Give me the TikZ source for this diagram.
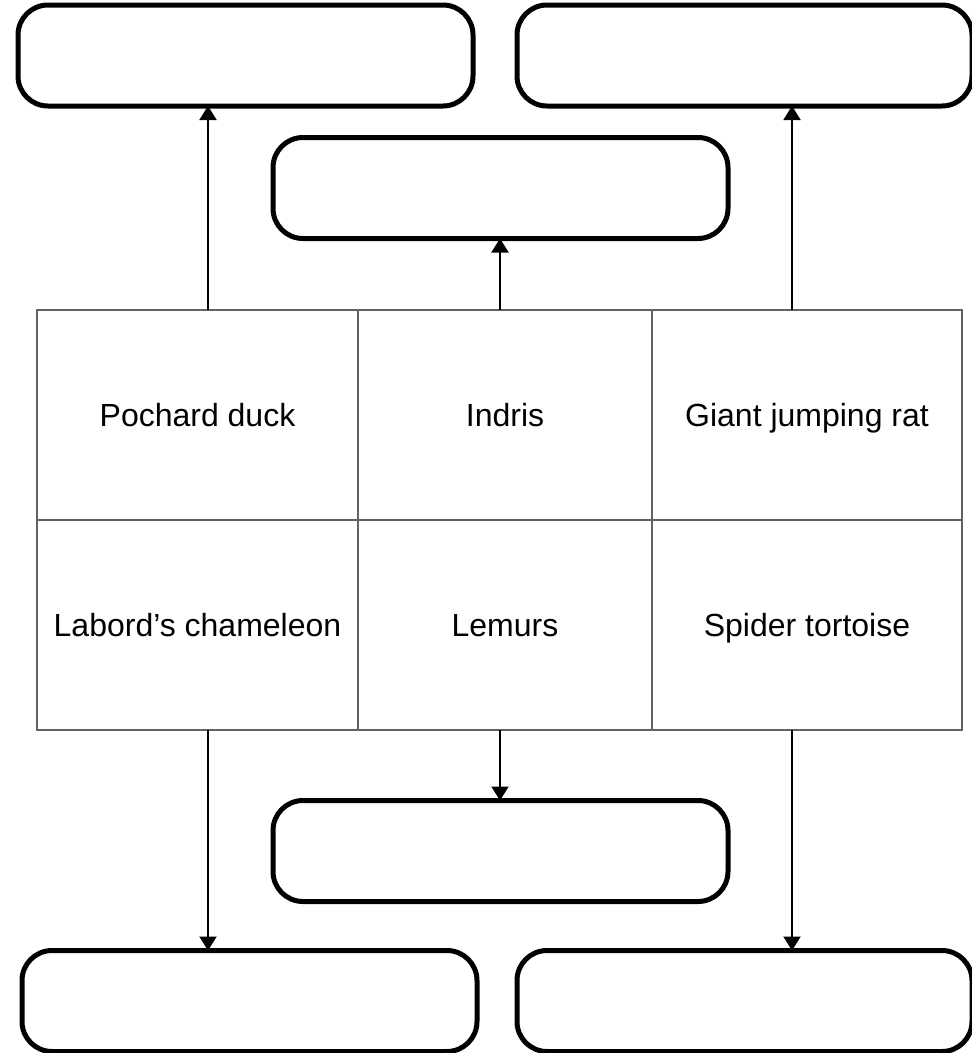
\documentclass[tikz,border=0pt]{standalone}
\usepackage{fontspec}
\setmainfont{Liberation Sans}
\usetikzlibrary{positioning, arrows.meta}
\definecolor{gridgray}{HTML}{5F6368}

\begin{document}
\begin{tikzpicture}[x=1pt,y=-1pt,font=\fontsize{32}{38}\selectfont]
    \tikzstyle{cell} = [rectangle,draw=gridgray,line width=2pt,minimum height=210pt,outer sep=0pt,inner sep=0pt,text height=23pt,text depth=0pt,text centered]
    \tikzstyle{block} = [rectangle,rounded corners=30pt,draw=black,line width=5pt,minimum width=455pt,minimum height=101pt,outer sep=0pt]
    \tikzstyle{link} = [-{Triangle[width=17pt,length=14pt]},line width=2pt]

    \useasboundingbox (0,0) rectangle (972,1053);

    % grid of species
    \node (pochard) [cell,minimum width=321pt] at (197.5,415) {Pochard duck};
    \node (indris) [cell,minimum width=294pt,right=0pt of pochard] {Indris};
    \node (rat) [cell,minimum width=310pt,right=0pt of indris] {Giant jumping rat};
    \node (labord) [cell,minimum width=321pt,below=0pt of pochard] {Labord’s chameleon};
    \node (lemurs) [cell,minimum width=294pt,right=0pt of labord] {Lemurs};
    \node (tortoise) [cell,minimum width=310pt,right=0pt of lemurs] {Spider tortoise};

    % empty boxes
    \node (topleft) [block] at (245.5,55.5) {};
    \node (topright) [block,right=44pt of topleft] {};
    \node (topmid) [block] at (500.5,188) {};
    \node (botmid) [block] at (500.5,851) {};
    \node (botleft) [block] at (249.5,1001) {};
    \node (botright) [block,right=40pt of botleft] {};

    \coordinate (upa) at (208,310);
    \coordinate (upb) at (500,310);
    \coordinate (upc) at (792,310);
    \coordinate (dna) at (208,730);
    \coordinate (dnb) at (500,730);
    \coordinate (dnc) at (792,730);

    \draw [link] (upa) -- (upa |- topleft.south);
    \draw [link] (upb) -- (upb |- topmid.south);
    \draw [link] (upc) -- (upc |- topright.south);
    \draw [link] (dna) -- (dna |- botleft.north);
    \draw [link] (dnb) -- (dnb |- botmid.north);
    \draw [link] (dnc) -- (dnc |- botright.north);

\end{tikzpicture}
\end{document}
